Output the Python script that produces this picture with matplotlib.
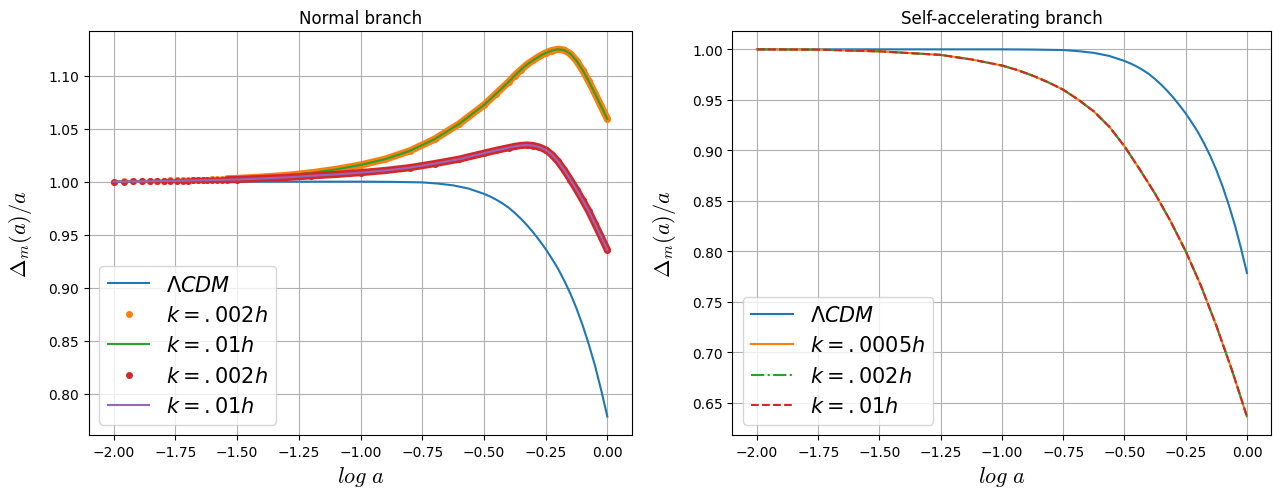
import matplotlib
matplotlib.use("Agg")
import matplotlib.pyplot as plt

# ---- data ----
# Normal branch: modified-gravity curves share one log a grid
normal_loga = [-2.000, -1.960, -1.920, -1.887, -1.853, -1.824, -1.796, -1.770,
               -1.745, -1.720, -1.700, -1.680, -1.660, -1.640, -1.620, -1.600,
               -1.580, -1.560, -1.540, -1.500, -1.400, -1.300, -1.200, -1.100,
               -1.000, -0.900, -0.800, -0.700, -0.600, -0.500, -0.450, -0.400,
               -0.375, -0.350, -0.325, -0.300, -0.275, -0.250, -0.225, -0.200,
               -0.175, -0.150, -0.125, -0.100, -0.075, -0.050, -0.025, 0.000]
normal_k002_a = [1.0000, 1.0002, 1.0004, 1.0006, 1.0007, 1.0008, 1.0010, 1.0011,
                 1.0012, 1.0013, 1.0015, 1.0016, 1.0017, 1.0019, 1.0020, 1.0022,
                 1.0024, 1.0026, 1.0027, 1.0030, 1.0043, 1.0058, 1.0083, 1.0115,
                 1.0157, 1.0212, 1.0290, 1.0400, 1.0545, 1.0722, 1.0830, 1.0940,
                 1.1000, 1.1055, 1.1105, 1.1145, 1.1182, 1.1213, 1.1236, 1.1247,
                 1.1240, 1.1205, 1.1140, 1.1050, 1.0945, 1.0830, 1.0710, 1.0590]
normal_k01_a = normal_k002_a
normal_k002_b = [1.0000, 1.0001, 1.0002, 1.0003, 1.0004, 1.0005, 1.0006, 1.0007,
                 1.0008, 1.0009, 1.0010, 1.0011, 1.0012, 1.0013, 1.0014, 1.0015,
                 1.0016, 1.0017, 1.0018, 1.0020, 1.0030, 1.0040, 1.0055, 1.0068,
                 1.0085, 1.0105, 1.0132, 1.0170, 1.0212, 1.0268, 1.0295, 1.0320,
                 1.0332, 1.0341, 1.0345, 1.0340, 1.0325, 1.0300, 1.0255, 1.0190,
                 1.0110, 1.0020, 0.9925, 0.9825, 0.9720, 0.9600, 0.9480, 0.9356]
normal_k01_b = normal_k002_b

# LCDM reference curve (same in both panels)
lcdm_loga = [-2.0, -1.5, -1.25, -1.0, -0.875, -0.75, -0.6875, -0.625, -0.5625,
             -0.5, -0.475, -0.45, -0.425, -0.4, -0.375, -0.35, -0.325, -0.3,
             -0.275, -0.25, -0.225, -0.2, -0.175, -0.15, -0.125, -0.1, -0.075,
             -0.05, -0.025, 0.0]
lcdm_vals = [1.0, 1.0, 1.0, 1.0, 0.9998, 0.9993, 0.9982, 0.9965, 0.9935,
             0.9885, 0.9860, 0.9830, 0.9795, 0.9755, 0.9705, 0.9650, 0.9588, 0.9520,
             0.9445, 0.9365, 0.9275, 0.9180, 0.9068, 0.8945, 0.8805, 0.8645, 0.8465,
             0.8265, 0.8035, 0.7785]

# Self-accelerating branch (all three k overlap)
sa_loga = [-2.0, -1.75, -1.5, -1.25, -1.125, -1.0, -0.9375, -0.875, -0.8125,
           -0.75, -0.6875, -0.625, -0.5625, -0.5, -0.4375, -0.375, -0.3125,
           -0.25, -0.1875, -0.125, -0.0625, 0.0]
sa_k0005 = [1.0, 0.9997, 0.998, 0.9945, 0.990, 0.984, 0.9795, 0.974, 0.9675,
            0.960, 0.950, 0.9385, 0.9235, 0.904, 0.881, 0.857, 0.830,
            0.800, 0.7656, 0.7262, 0.6831, 0.6362]
sa_k002 = sa_k0005
sa_k01 = sa_k0005

# ---- figure ----
fig = plt.figure(figsize=(12.73, 4.89), dpi=100)
ax1 = fig.add_axes([0.0699, 0.1084, 0.4266, 0.8262])
ax2 = fig.add_axes([0.5754, 0.1084, 0.4234, 0.8262])

# === LEFT: normal branch ===
n0 = 18  # dots merge into a band from here on
ax1.plot(lcdm_loga, lcdm_vals, color='C0', label=r'$\Lambda CDM$')
ax1.plot(normal_loga[n0:], normal_k002_a[n0:], color='C1', lw=5.2,
         solid_capstyle='round')
ax1.plot(normal_loga, normal_k002_a, '.', color='C1', ms=8,
         label=r'$k=.002h$')
ax1.plot(normal_loga, normal_k01_a, color='C2', label=r'$k=.01h$')
ax1.plot(normal_loga[n0:], normal_k002_b[n0:], color='C3', lw=5.2,
         solid_capstyle='round')
ax1.plot(normal_loga, normal_k002_b, '.', color='C3', ms=8,
         label=r'$k=.002h$')
ax1.plot(normal_loga, normal_k01_b, color='C4', label=r'$k=.01h$')
ax1.set_title('Normal branch')

# === RIGHT: self-accelerating branch ===
ax2.plot(lcdm_loga, lcdm_vals, color='C0', label=r'$\Lambda CDM$')
ax2.plot(sa_loga, sa_k0005, color='C1', label=r'$k=.0005h$')
ax2.plot(sa_loga, sa_k002, '-.', color='C2', label=r'$k=.002h$')
ax2.plot(sa_loga, sa_k01, '--', color='C3', label=r'$k=.01h$')
ax2.set_title('Self-accelerating branch')

for ax in (ax1, ax2):
    ax.grid(True)
    ax.set_xlabel(r'$log\ a$', fontsize=16, math_fontfamily='cm')
    ax.set_ylabel(r'$\Delta_m(a)/a$', fontsize=16, math_fontfamily='cm',
                  labelpad=10)
    ax.legend(loc='lower left', fontsize=15)

plt.savefig('out.png', dpi=100)
